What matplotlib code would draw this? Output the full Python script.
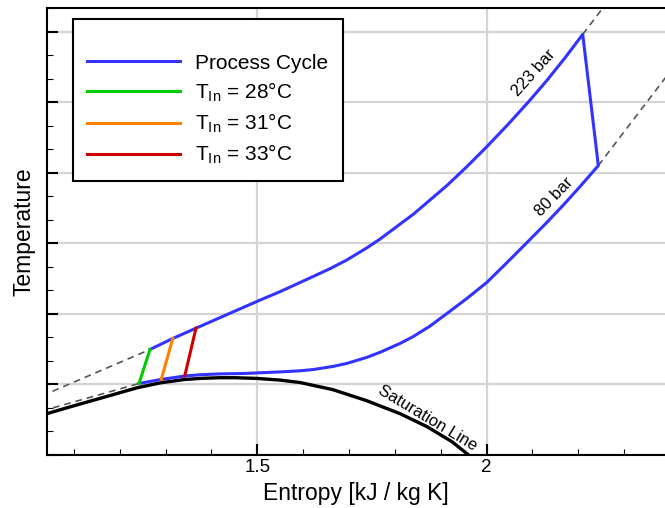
import numpy as np
import matplotlib
matplotlib.use("Agg")
import matplotlib.pyplot as plt
from matplotlib.ticker import MultipleLocator, AutoMinorLocator, NullFormatter

plt.rcParams['font.family'] = ['Liberation Sans', 'DejaVu Sans']
plt.rcParams['mathtext.fontset'] = 'custom'
plt.rcParams['mathtext.rm'] = 'Liberation Sans'
plt.rcParams['mathtext.it'] = 'Liberation Sans:italic'

# saturation dome (entropy kJ/kgK, temperature K)
sat_s = [1.03, 1.0421, 1.1075, 1.1803, 1.2383, 1.2894, 1.3402, 1.3751, 1.4187, 1.4514, 1.4987,
         1.5495, 1.5931, 1.6651, 1.7386, 1.8112, 1.8700, 1.9245, 1.9601, 1.9856]
sat_T = [278.3, 279.4, 285.6, 292.3, 297.7, 301.2, 303.5, 304.3, 304.8, 304.8, 304.3,
         303.1, 301.4, 296.3, 288.5, 279.3, 270.1, 259.4, 250.2, 243.5]

# 80 bar isobar, process part
p80_s = [1.2420, 1.2907, 1.3417, 1.3751, 1.4187, 1.4710, 1.5495, 1.5931, 1.6221, 1.6651,
         1.6949, 1.7386, 1.7676, 1.8112, 1.8402, 1.8766, 1.9130, 1.9566, 2.0002, 2.0401,
         2.0837, 2.1311, 2.1673, 2.2037, 2.2436]
p80_T = [300.7, 303.6, 306.0, 306.9, 307.5, 307.8, 308.9, 309.7, 310.6, 312.8,
         314.9, 319.2, 322.8, 329.1, 334.0, 341.4, 350.2, 360.9, 372.3, 385.0,
         399.2, 414.8, 427.2, 440.3, 455.2]

# 223 bar isobar, process part
p223_s = [1.2660, 1.3155, 1.3663, 1.4187, 1.5022, 1.5495, 1.6221, 1.6585, 1.6949, 1.7386,
          1.7676, 1.8402, 1.9130, 1.9566, 2.0002, 2.0445, 2.0903, 2.1311, 2.1710, 2.2096]
p223_T = [324.8, 332.6, 339.9, 347.4, 359.3, 365.8, 376.6, 382.1, 388.2, 396.8,
          403.1, 420.7, 440.9, 454.3, 468.5, 483.6, 500.0, 515.4, 531.6, 548.2]

# dashed continuation of the isobars
ext80_left_s, ext80_left_T = [1.03, 1.2420], [281.2, 300.7]
ext80_right_s, ext80_right_T = [2.2436, 2.3888, 2.40], [455.2, 517.0, 522.0]
ext223_left_s, ext223_left_T = [1.03, 1.2660], [291.9, 324.8]
ext223_right_s, ext223_right_T = [2.2096, 2.2473, 2.26], [548.2, 564.3, 569.5]

# compressor lines for the three inlet temperatures
t_in_labels = ["28", "31", "33"]
t_in_colors = ["#00cc00", "#ff8000", "#d00000"]
comp_s_low = [1.2420, 1.2907, 1.3417]
comp_T_low = [300.7, 303.6, 306.0]
comp_s_high = [1.2660, 1.3155, 1.3663]
comp_T_high = [324.8, 332.6, 339.9]

blue = "#3333ff"

fig = plt.figure(figsize=(6.65, 5.08), dpi=100)
ax = fig.add_axes([47/665, 53/508, 618/665, 446.7/508])

# dashed isobar extensions
for xs, ys in [(ext80_left_s, ext80_left_T), (ext80_right_s, ext80_right_T),
               (ext223_left_s, ext223_left_T), (ext223_right_s, ext223_right_T)]:
    ax.plot(xs, ys, color="#555555", lw=1.2, ls=(0, (4, 3)), zorder=2)

ax.plot(sat_s, sat_T, color="black", lw=2.4, zorder=3, solid_joinstyle="round")

# closed process cycle: 223 bar up, expansion, 80 bar back
cyc_s = list(p223_s) + list(p80_s[::-1])
cyc_T = list(p223_T) + list(p80_T[::-1])
ax.plot(cyc_s, cyc_T, color=blue, lw=2.2, zorder=4, solid_joinstyle="round",
        label="Process Cycle")

for i in range(3):
    ax.plot([comp_s_low[i], comp_s_high[i]], [comp_T_low[i], comp_T_high[i]],
            color=t_in_colors[i], lw=2.2, zorder=5,
            label=r"T$_{\mathrm{In}}$ = " + t_in_labels[i] + "°C")

ax.text(2.1034, 520.8, "223 bar", rotation=48, fontsize=12, ha="center", va="center")
ax.text(2.147, 432.8, "80 bar", rotation=46, fontsize=12, ha="center", va="center")
ax.text(1.8722, 276.3, "Saturation Line", rotation=-31, fontsize=12, ha="center", va="center")

ax.set_xlim(1.0414, 2.389)
ax.set_ylim(250, 566.7)
ax.xaxis.set_major_locator(MultipleLocator(0.5))
ax.xaxis.set_minor_locator(MultipleLocator(0.1))
ax.yaxis.set_major_locator(MultipleLocator(50))
ax.yaxis.set_minor_locator(AutoMinorLocator(3))
ax.yaxis.set_major_formatter(NullFormatter())
ax.set_xticks([1.5, 2])
ax.set_xticklabels(["1.5", "2"])
ax.tick_params(which="major", direction="in", length=8, width=1.5, labelsize=13.5, pad=3)
ax.tick_params(which="minor", direction="in", length=4, width=0.8)
ax.tick_params(top=False, right=False)

ax.grid(True, which="major", color="#d4d4d4", lw=1.6, zorder=0)
ax.set_axisbelow(True)
for side in ["left", "bottom", "top"]:
    ax.spines[side].set_linewidth(1.5)
ax.spines["right"].set_visible(False)

ax.set_xlabel("Entropy [kJ / kg K]", fontsize=16.5, labelpad=4)
ax.set_ylabel("Temperature", fontsize=16.5, labelpad=5)

leg = ax.legend(loc="upper left", bbox_to_anchor=(0.0416, 0.9754), fontsize=15,
                frameon=True, fancybox=False, framealpha=1, edgecolor="black",
                handlelength=4.45, handletextpad=0.72, labelspacing=0.38,
                borderpad=0.7, borderaxespad=0, title=" ", title_fontsize=9.5)
leg.get_frame().set_linewidth(1.5)

fig.savefig("out.png", dpi=100)
